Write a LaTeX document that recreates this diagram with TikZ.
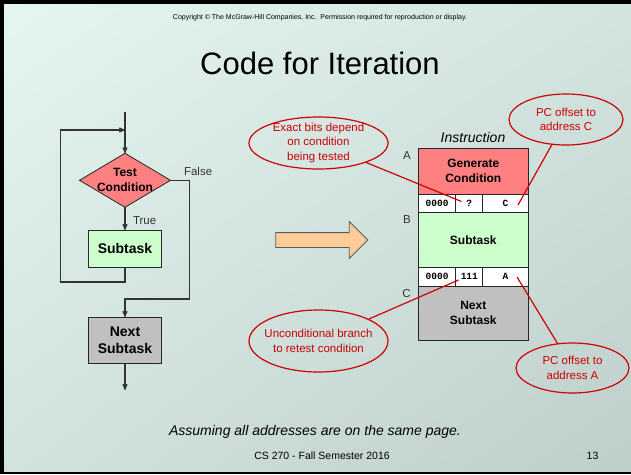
\documentclass[tikz,border=0pt]{standalone}
\usepackage{fontspec}
\setmainfont{Liberation Sans}
\setmonofont{Liberation Mono}
\usetikzlibrary{shapes}
\usetikzlibrary{arrows}
\usetikzlibrary{shadings}
\usetikzlibrary{positioning}
\definecolor{bgtl}{RGB}{229,246,241}
\definecolor{bgtr}{RGB}{211,228,224}
\definecolor{bgbl}{RGB}{210,227,223}
\definecolor{bgbr}{RGB}{190,206,202}
\definecolor{testred}{RGB}{255,128,128}
\definecolor{taskgreen}{RGB}{204,255,204}
\definecolor{nextgray}{RGB}{192,192,192}
\definecolor{arroworange}{RGB}{255,204,153}
\definecolor{calloutred}{RGB}{204,0,0}
\tikzset{
	flow/.style = {
		->,
		draw=black!80,
		line width=1.1pt
	},
	treenode/.style = {
		align=center,
		inner sep=0pt,
		outer sep=0pt,
		text centered,
		draw=black!85,
		line width=0.8pt
	},
	node_test/.style = {
		treenode,
		diamond,
		fill=testred,
		inner sep=-10pt,
		minimum width=91pt,
		minimum height=54pt,
		font=\fontsize{12}{15}\selectfont\bfseries
	},
	node_task/.style = {
		treenode,
		rectangle,
		fill=taskgreen,
		minimum width=73pt,
		font=\fontsize{14}{17}\selectfont\bfseries
	},
	node_next/.style = {
		node_task,
		fill=nextgray
	},
	node_instr/.style = {
		treenode,
		rectangle,
		minimum width=110pt,
		font=\fontsize{12}{15}\selectfont\bfseries
	},
	node_cell/.style = {
		treenode,
		rectangle,
		fill=white,
		minimum height=18.5pt,
		font=\fontsize{9.5}{11}\ttfamily\bfseries
	},
	node_callout/.style = {
		ellipse,
		draw=calloutred,
		line width=1.2pt,
		inner sep=-20pt,
		align=center,
		text=calloutred,
		font=\fontsize{11.5}{14.5}\selectfont
	},
	node_arrow/.style = {
		single arrow,
		draw=black!65,
		fill=arroworange,
		line width=0.8pt,
		inner xsep=0pt,
		inner ysep=7pt,
		minimum height=92pt,
		minimum width=36pt,
		single arrow head extend=11pt
	},
	lbl/.style = {
		font=\fontsize{11.5}{14}\selectfont,
		text=black!80
	},
	pointer/.style = {
		draw=calloutred,
		line width=1.2pt
	}
}
\begin{document}
\begin{tikzpicture}[x=1pt, y=-1pt, >=stealth']
\useasboundingbox (0,0) rectangle (631,474);
% slide
\fill[black] (0,0) rectangle (631,474);
\shade[upper left=bgtl, upper right=bgtr, lower left=bgbl, lower right=bgbr] (4,4) rectangle (631,471);
\node[font=\fontsize{7}{8}\selectfont, anchor=base] (copyright) at (320,19.5) {Copyright \textcopyright{} The McGraw-Hill Companies, Inc.\ \ Permission required for reproduction or display.};
\node[font=\fontsize{31}{36}\selectfont, anchor=base] (title) at (320,74) {Code for Iteration};

% flow chart
\node [node_test] (test) at (125,180.3) {Test\\Condition};
\node [node_task, minimum height=37pt] (task) at (125,248.5) {Subtask};
\node [node_next, minimum height=46pt] (next) at (125,340) {Next\\Subtask};
\coordinate (entry) at (125,111.7);
\coordinate (join) at (125,130);
\coordinate (loop) at (60.5,282);
\coordinate (fcorner) at (189.3,299);
\coordinate (exit) at (125,390);
\draw[flow] (entry) -- (test.north);
\draw[flow] (task.south) |- (loop) |- (join);
\draw[flow] (test.south) -- (task.north);
\draw[flow] (test.east) -| (fcorner) -| (next.north);
\draw[flow] (next.south) -- (exit);
\node [lbl, anchor=west] (truelbl) at (129.5,220.5) {True};
\node [lbl, anchor=west] (falselbl) at (180.5,171.5) {False};

% big arrow
\node [node_arrow] (bigarrow) at (318,240) {};

% instruction layout
\node [font=\fontsize{14}{17}\selectfont\itshape, anchor=base] (instr) at (473,142.5) {Instruction};
\node [node_instr, fill=testred, minimum height=45.5pt, anchor=north west] (gen) at (418.3,148.5) {Generate\\Condition};
\node [node_cell, minimum width=37.5pt, anchor=north west] (zeroa) at (gen.south west) {0000};
\node [node_cell, minimum width=27pt, right=0pt of zeroa] (cond) {?};
\node [node_cell, minimum width=45.5pt, right=0pt of cond] (offc) {C};
\node [node_instr, fill=taskgreen, minimum height=55pt, anchor=north west] (isub) at (zeroa.south west) {Subtask};
\node [node_cell, minimum width=37.5pt, anchor=north west] (zerob) at (isub.south west) {0000};
\node [node_cell, minimum width=27pt, right=0pt of zerob] (uncond) {111};
\node [node_cell, minimum width=45.5pt, right=0pt of uncond] (offa) {A};
\node [node_instr, fill=nextgray, minimum height=54pt, anchor=north west] (inext) at (zerob.south west) {Next\\Subtask};
\node [lbl, anchor=north east] (la) at ([xshift=-4pt]gen.north west) {A};
\node [lbl, anchor=north east] (lb) at ([xshift=-4pt]isub.north west) {B};
\node [lbl, anchor=north east] (lc) at ([xshift=-4pt]inext.north west) {C};

% callouts
\node [node_callout, minimum width=139pt, minimum height=52pt] (cbits) at (318.5,143) {Exact bits depend\\on condition\\being tested};
\node [node_callout, minimum width=114pt, minimum height=51pt] (cpcc) at (566,119.5) {PC offset to\\address C};
\node [node_callout, minimum width=139pt, minimum height=62pt] (cunc) at (318.5,341) {Unconditional branch\\to retest condition};
\node [node_callout, minimum width=113pt, minimum height=50pt] (cpca) at (572.5,368) {PC offset to\\address A};
\coordinate (qend) at (461.5,201.5);
\coordinate (cend) at (518,205);
\coordinate (uend) at (458.5,280);
\coordinate (aend) at (517,277);
\draw[pointer] (cbits) -- (qend);
\draw[pointer] (cpcc) -- (cend);
\draw[pointer] (cunc) -- (uend);
\draw[pointer] (cpca) -- (aend);

% footer
\node[font=\fontsize{14}{17}\selectfont\itshape, anchor=base] (note) at (315,435) {Assuming all addresses are on the same page.};
\node[font=\fontsize{10.5}{12}\selectfont, anchor=base] (footer) at (322,459.5) {CS 270 - Fall Semester 2016};
\node[font=\fontsize{10.5}{12}\selectfont, anchor=base] (pagenum) at (592.5,459.5) {13};
\end{tikzpicture}
\end{document}
